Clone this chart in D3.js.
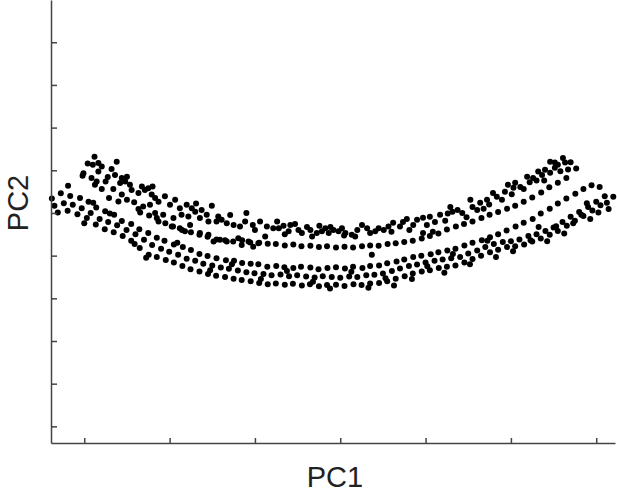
<!DOCTYPE html>
<html>
<head>
<meta charset="utf-8">
<script src="https://cdn.jsdelivr.net/npm/d3@7"></script>
<style>
  body { margin: 0; background: #fff; }
  svg { display: block; }
  .axis path, .axis line { stroke: #444; stroke-width: 1.5; }
  .label { font-family: "Liberation Sans", Arial, sans-serif; font-size: 29px; fill: #222; }
</style>
</head>
<body>
<div id="container"></div>
<script>
// PCA scores, [PC1, PC2]
// upper scattered arc
var upperArc = [
  [-57.6,23.2],[-58.0,21.3],[-56.7,21.7],[-55.9,20.9],[-60.2,19.3],[-60.4,18.7],[-56.7,19.7],[-53.6,20.3],
  [-52.8,18.9],[-58.3,18.2],[-57.1,17.4],[-57.5,16.6],[-54.5,18.4],[-51.2,18.2],[-50.0,18.5],[-50.4,17.4],
  [-49.3,16.6],[-51.6,17.0],[-55.9,15.6],[-53.2,15.6],[-48.9,15.4],[-46.5,16.2],[-45.8,15.4],[-45.0,15.8],
  [-44.2,14.3],[-43.4,13.5],[-47.3,14.7],[-51.2,14.3],[-54.2,13.5],[-52.0,12.7],[-50.0,13.1],[-48.3,12.5],
  [-47.3,10.9],[-46.2,11.5],[-44.6,11.9],[-43.4,10.0],
  [-41.1,13.9],[-38.7,13.1],[-39.9,11.9],[-37.6,11.1],[-36.0,11.9],[-34.8,11.1],[-34.0,10.3],[-32.5,10.7],
  [-30.1,11.7],[-41.5,9.6],[-39.1,8.8],[-35.2,7.2],[-35.6,9.2],[-32.9,8.8],[-31.3,9.6],[-30.9,8.0],
  [-28.6,9.2],[-27.8,8.4],[-26.6,7.6],[-25.0,7.2],[-23.5,6.8],[-22.3,8.0],[-29.0,8.0],[-20.0,6.0],
  [-18.8,8.0],[-17.2,6.8],[-17.6,4.5],[-15.7,6.4],
  [-14.4,6.4],[-13.3,7.0],[-11.7,7.2],[-12.1,5.7],[-9.8,6.0],[-9.0,5.3],[-7.8,6.7],[-7.0,6.0],
  [-6.6,4.5],[-5.5,5.3],[-4.3,5.7],[-3.5,6.4],[-2.3,6.7],[-2.7,5.3],[-1.6,6.0],[-0.4,5.7],
  [0.4,6.4],[1.2,5.3],[2.7,4.9],[3.5,4.5],[5.1,7.2],[6.3,6.4],[7.0,5.3],[8.2,5.7],[9.0,6.4],[10.2,6.0],[11.3,6.8],
  [12.4,7.7],[14.7,7.9],[14.0,6.8],[17.1,7.2],[18.0,8.4],[19.4,8.9],[21.0,9.1],[22.2,7.9],[23.4,9.6],
  [20.3,7.2],[19.4,5.3],[21.7,5.6],[25.8,11.4],[26.3,10.3],[27.5,10.7],[28.6,10.0],[30.5,13.1],[31.0,11.4],
  [32.1,10.7],[32.8,12.4],[34.4,13.1],[35.8,14.7],[36.7,13.8],[37.9,13.1],
  [39.3,16.6],[41.0,17.1],[42.2,16.1],[43.8,18.5],[45.2,18.2],[46.4,19.7],[47.3,18.9],[48.0,20.1],
  [49.2,19.4],[50.3,20.6],[51.0,21.3],[52.2,22.9],[52.7,21.8],[50.3,21.8],[49.2,22.0],
  [-13.0,5.0],[-10.6,7.4],[-4.9,7.0],[0.9,4.7],[4.0,6.0],[12.0,5.6],[15.6,8.6],[16.2,6.0],[24.6,8.2],
  [25.2,9.9],[29.6,9.0],[33.6,11.0],[34.9,12.0],[38.6,15.0],[40.2,14.4],[40.6,15.9],[43.0,15.6],
  [44.4,17.2],[46.0,17.6],[47.8,17.6],[51.6,19.8],[53.4,20.2],[54.0,21.9],[-22.0,10.0],[-20.5,7.2],
  [-14.8,8.0],[-25.8,9.5],[-33.8,12.2],[-37.2,9.6],[-42.6,12.6],[-44.0,16.2],[-55.0,17.4],[-52.4,22.0],[-59.2,21.6]
];

// thin dotted line under the upper arc
var middleLine = [
  [-46.9,10.1],[-44.8,9.4],[-43.0,8.8],[-41.0,7.6],[-39.2,6.8],[-37.1,6.0],[-35.0,5.5],[-33.0,4.9],
  [-31.1,4.4],[-29.0,3.8],[-27.0,3.6],[-25.1,3.3],[-23.0,3.6],[-21.1,3.1],[-19.0,3.0],[-17.0,2.8],
  [-15.1,2.7],[-13.0,2.4],[-11.0,2.6],[-9.1,2.2],[-7.0,2.3],[-5.0,2.0],[-3.1,2.2],[-1.0,1.9],
  [1.0,2.1],[3.0,1.9],[5.1,2.2],[7.0,2.4],[9.0,2.3],[11.1,2.7],[13.0,2.9],[15.0,3.2],[17.0,3.5],
  [19.1,4.0],[21.0,4.6],[23.0,5.2],[25.0,6.1],[27.1,6.8],[29.0,7.4],[31.0,8.0],[33.1,8.8],[35.0,9.6],
  [37.0,10.2],[39.1,11.0],[41.0,11.7],[43.0,12.6],[45.0,13.6],[47.1,14.8],[49.0,16.0],[51.0,17.1],
  [53.0,18.2],[55.3,20.4],[-42.6,8.0],[-39.5,6.8],[-37.6,6.4],[-36.4,5.7],[-32.9,5.3],[-30.9,4.9],
  [-29.7,3.3],[-28.2,3.7],[-26.6,3.3],[-23.9,4.1],[-23.1,2.5],[-21.5,3.3],[-20.4,2.1],[-19.2,2.9]
];

// lower arc, three rows
var lowerTop = [
  [-67.6,13.4],[-65.5,14.6],[-63.3,14.0],[-61.0,13.5],[-59.0,12.6],[-57.2,11.3],[-55.1,10.4],[-53.0,9.6],
  [-51.2,8.1],[-49.0,7.4],[-47.1,6.2],[-45.0,5.3],[-43.0,4.2],[-41.2,3.5],[-39.0,2.6],[-36.9,2.0],
  [-35.0,1.3],[-33.0,0.4],[-31.1,-0.1],[-29.0,-0.6],[-26.8,-1.1],[-24.9,-1.2],[-23.0,-1.7],[-21.0,-1.9],
  [-19.2,-2.0],[-17.1,-2.6],[-15.0,-2.4],[-13.1,-2.7],[-11.0,-2.9],[-9.2,-2.6],[-7.0,-2.8],[-5.1,-3.2],
  [-3.0,-2.9],[-1.0,-2.7],[1.1,-3.0],[3.0,-2.6],[5.2,-2.9],[7.0,-2.4],[9.1,-2.3],[11.0,-1.8],
  [13.2,-1.4],[15.0,-0.9],[17.1,-0.3],[19.0,0.0],[21.2,0.3],[23.0,0.8],[25.1,1.2],[27.0,1.6],
  [29.1,2.4],[31.0,3.0],[33.2,3.6],[35.1,4.3],[37.0,5.0],[39.0,5.9],[41.1,6.8],[43.0,7.7],
  [45.1,8.6],[47.0,9.9],[49.1,11.0],[51.0,12.2],[53.0,13.4],[55.1,14.5],[57.0,15.6],[58.9,16.5],[60.8,16.1]
];
var lowerMid = [
  [-67.0,11.7],[-64.8,12.3],[-62.7,11.9],[-60.6,11.1],[-58.5,10.0],[-56.4,8.6],[-54.4,7.9],[-52.3,7.1],
  [-50.1,6.0],[-48.0,5.0],[-46.0,3.7],[-44.1,2.5],[-42.0,1.6],[-40.1,0.9],[-38.0,0.2],[-36.0,-0.7],
  [-34.0,-1.2],[-32.1,-1.9],[-30.0,-2.3],[-28.0,-2.8],[-26.1,-3.1],[-24.0,-3.5],[-22.0,-3.9],[-20.1,-4.1],
  [-18.0,-4.3],[-16.1,-4.6],[-14.0,-4.4],[-12.0,-4.8],[-10.1,-4.6],[-8.0,-4.9],[-6.0,-5.1],[-4.1,-4.8],
  [-2.0,-5.0],[0.0,-5.2],[2.1,-4.9],[4.0,-5.0],[6.1,-4.6],[8.0,-4.5],[10.0,-4.2],[12.1,-3.6],
  [14.0,-3.0],[16.1,-2.4],[18.0,-2.1],[20.0,-1.6],[22.1,-1.2],[24.0,-0.9],[26.0,-0.6],[28.1,-0.3],
  [30.0,0.5],[32.1,1.2],[34.0,2.0],[36.0,2.7],[38.1,3.2],[40.0,3.4],[42.0,3.8],[44.1,4.6],
  [46.0,5.0],[48.1,5.8],[50.0,6.6],[52.1,7.9],[54.0,9.1],[56.0,10.2],[58.1,11.4],[60.0,12.6],[62.0,13.9],[64.0,13.8]
];
var lowerBot = [
  [-66.2,10.1],[-63.9,10.5],[-61.6,9.7],[-59.4,8.8],[-57.3,7.3],[-55.2,6.2],[-53.1,5.5],[-51.0,4.6],
  [-49.0,3.5],[-47.0,1.8],[-44.9,0.2],[-43.0,-0.3],[-40.9,-1.0],[-39.0,-1.6],[-37.0,-2.4],[-35.1,-3.2],
  [-33.0,-3.7],[-31.0,-4.3],[-29.1,-4.7],[-27.0,-5.0],[-25.0,-5.4],[-23.1,-5.7],[-21.0,-6.0],[-19.0,-6.4],
  [-17.0,-6.7],[-15.1,-6.5],[-13.0,-6.8],[-11.1,-6.6],[-9.0,-7.0],[-7.1,-6.7],[-5.0,-7.2],[-3.1,-6.9],
  [-1.0,-6.8],[1.0,-7.1],[3.1,-6.7],[5.0,-6.9],[7.0,-6.5],[9.1,-6.4],[11.0,-6.0],[13.0,-5.4],
  [15.1,-4.8],[17.0,-4.2],[19.1,-3.7],[21.0,-3.4],[23.1,-2.9],[25.0,-2.6],[27.0,-2.3],[29.1,-1.6],
  [31.0,-0.8],[33.0,0.0],[35.1,0.8],[37.0,1.4],[39.1,2.0],[41.0,2.2],[43.1,2.6],[45.0,3.3],
  [47.0,4.0],[49.1,4.9],[51.0,5.8],[53.1,7.0],[55.0,8.2],[57.0,9.3],[59.1,10.6],[61.0,11.8],[62.5,12.4]
];
var lowerExtra = [
  [-63.8,16.4],[-60.0,7.6],[-57.9,12.4],[-54.0,9.9],[-48.2,2.7],[-45.5,-0.5],[-38.2,3.0],[-30.5,-3.4],
  [-25.4,-2.0],[-18.6,-5.5],[-12.5,-3.6],[-6.4,-6.1],[-2.4,-7.7],[2.6,-3.8],[6.6,-7.5],[10.6,-5.3],
  [12.6,-7.0],[16.8,-5.5],[20.4,-2.5],[24.4,-4.0],[26.4,0.4],[30.4,-2.0],[34.5,3.5],[36.5,-0.3],
  [40.5,1.0],[44.6,3.6],[48.5,3.4],[50.6,6.9],[52.5,5.2],[54.6,7.6],[56.5,9.6],[58.6,8.6],
  [60.5,10.1],[62.9,10.9],[57.8,12.3],[46.5,6.7],[7.4,0.2]
];

var pc1Ticks = [-60, -40, -20, 0, 20, 40, 60];
var pc2Ticks = [-40, -30, -20, -10, 0, 10, 20, 30, 40, 50];

var width = 617, height = 493;
var margin = { top: 0, right: 2, bottom: 50, left: 51 };

var svg = d3.select("#container").append("svg")
  .attr("width", width)
  .attr("height", height);

var xScale = d3.scaleLinear()
  .domain([-67.8, 64.4])
  .range([margin.left, width - margin.right]);

var yScale = d3.scaleLinear()
  .domain([-43.9, 59.9])
  .range([height - margin.bottom, margin.top]);

var allPoints = [].concat(upperArc, middleLine, lowerTop, lowerMid, lowerBot, lowerExtra);

svg.append("g")
  .selectAll("circle")
  .data(allPoints)
  .enter()
  .append("circle")
  .attr("cx", function(d) { return xScale(d[0]); })
  .attr("cy", function(d) { return yScale(d[1]); })
  .attr("r", 3)
  .attr("fill", "#000");

// axes, ticks point inward, no labels
var xAxis = d3.axisBottom(xScale)
  .tickValues(pc1Ticks)
  .tickSize(-5)
  .tickSizeOuter(0)
  .tickFormat("");

var yAxis = d3.axisLeft(yScale)
  .tickValues(pc2Ticks)
  .tickSize(-6)
  .tickSizeOuter(0)
  .tickFormat("");

svg.append("g")
  .attr("class", "axis")
  .attr("transform", "translate(0," + (height - margin.bottom) + ")")
  .call(xAxis);

svg.append("g")
  .attr("class", "axis")
  .attr("transform", "translate(" + margin.left + ",0)")
  .call(yAxis);

svg.append("text")
  .attr("class", "label")
  .attr("x", 335)
  .attr("y", 487)
  .attr("text-anchor", "middle")
  .text("PC1");

svg.append("text")
  .attr("class", "label")
  .attr("transform", "translate(28,203) rotate(-90)")
  .attr("text-anchor", "middle")
  .text("PC2");
</script>
</body>
</html>
